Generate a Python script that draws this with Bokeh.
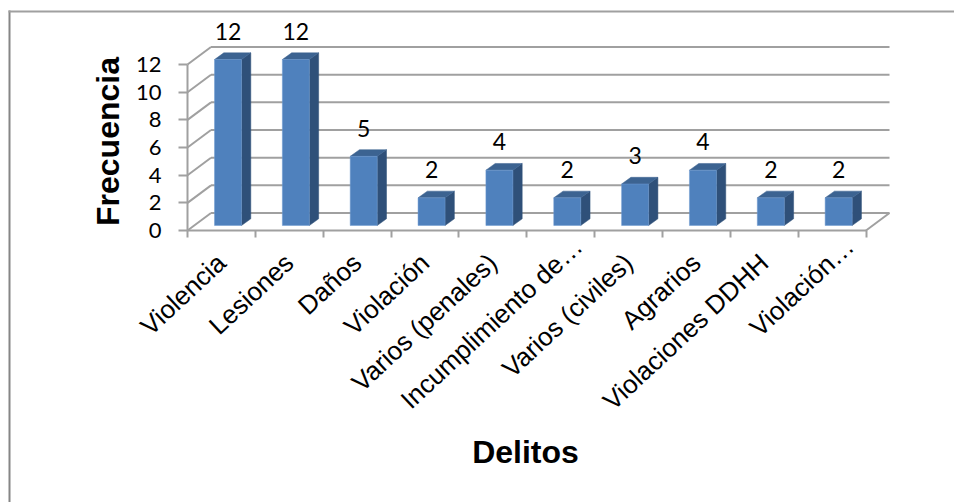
from math import cos, radians, sin

from bokeh.core.properties import value
from bokeh.embed import file_html
from bokeh.models import BoxAnnotation, FixedTicker, Label, LinearAxis, Range1d
from bokeh.plotting import figure
from bokeh.resources import INLINE

categories = ["Violencia", "Lesiones", "Daños", "Violación", "Varios (penales)",
              "Incumplimiento de…", "Varios (civiles)", "Agrarios",
              "Violaciones DDHH", "Violación…"]
frecuencia = [12, 12, 5, 2, 4, 2, 3, 4, 2, 2]
y_ticks = [0, 2, 4, 6, 8, 10, 12]

WIDTH = 954
HEIGHT = 502
ORIGIN_X = 187             # page position of the front corner of the floor
ORIGIN_Y = 230

# Pixels per data unit, and the oblique depth of the box walls
PX_X = 67.85
PX_Y = 13.83
WALL_DX = 23.5 / PX_X
WALL_DY = 17.5 / PX_Y
BAR_W = 27 / PX_X
BAR_DX = 9.3 / PX_X
BAR_DY = 6.7 / PX_Y
BAR_X0 = 27 / PX_X         # gap between category edge and front face of bar
BAR_Y0 = 5.0 / PX_Y        # bar feet sit a little behind the front floor edge

LABEL_ANGLE = radians(43)
LABEL_DROP = 28            # pixels from the floor edge to the end of a category label
LABEL_NUDGE = 0
ELLIPSIS_SHIFT = 24        # truncated labels run further along their slant

GRID = "#a0a0a0"
TEXT = "#000000"
FRONT = "#4f81bd"
SIDE = "#2f5079"
TOP = "#3c6391"

n = len(categories)
# The frame fills the page; the axes are pinned to the floor and the left wall
p = figure(width=WIDTH, height=HEIGHT, output_backend="svg", toolbar_location=None,
           x_range=Range1d(-ORIGIN_X / PX_X, (WIDTH - ORIGIN_X) / PX_X),
           y_range=Range1d((ORIGIN_Y - HEIGHT) / PX_Y, ORIGIN_Y / PX_Y),
           x_axis_type=None, y_axis_type=None, min_border=0)
p.grid.visible = False
p.outline_line_color = None
p.background_fill_color = "white"
p.border_fill_color = "white"

# Back wall and left wall gridlines
for v in range(0, 13, 2):
    p.line([WALL_DX, n + WALL_DX], [v + WALL_DY, v + WALL_DY], line_color=GRID, line_width=2)
    p.line([0, WALL_DX], [v, v + WALL_DY], line_color=GRID, line_width=2)
p.line([n, n + WALL_DX], [0, WALL_DY], line_color=GRID, line_width=2)

# Bars as three faces each, drawn from the frequencies
for i, v in enumerate(frecuencia):
    x0 = i + BAR_X0
    x1 = x0 + BAR_W
    y0 = BAR_Y0
    y1 = v + y0
    p.patch([x1, x1 + BAR_DX, x1 + BAR_DX, x1],
            [y0, y0 + BAR_DY, y1 + BAR_DY, y1], fill_color=SIDE, line_color=SIDE, line_width=0.5)
    p.patch([x0, x1, x1 + BAR_DX, x0 + BAR_DX],
            [y1, y1, y1 + BAR_DY, y1 + BAR_DY], fill_color=TOP, line_color=TOP, line_width=0.5)
    p.patch([x0, x1, x1, x0], [y0, y0, y1, y1], fill_color=FRONT, line_color="#6f9ad0", line_width=0.5)

p.text([i + BAR_X0 + BAR_W / 2 for i in range(n)],
       [v + 2.4 for v in frecuencia],
       text=[str(v) for v in frecuencia], text_align="center", text_baseline="middle",
       text_font=value("Lato"), text_font_size="23px", text_color=TEXT)

edges = list(range(n + 1))
x_axis = LinearAxis(ticker=FixedTicker(ticks=edges), fixed_location=0,
                    major_label_overrides={e: "" for e in edges},
                    major_tick_in=0, major_tick_out=7, major_tick_line_color=GRID,
                    major_tick_line_width=2, axis_line_color=GRID, axis_line_width=2,
                    bounds=(0, n))
p.add_layout(x_axis, "below")

# Slanted category names, ending under the middle of each category
label_x, label_y = [], []
for i, name in enumerate(categories):
    shift = ELLIPSIS_SHIFT if name.endswith("…") else 0
    label_x.append(i + 0.5 + (LABEL_NUDGE + shift * cos(LABEL_ANGLE)) / PX_X)
    label_y.append((-LABEL_DROP + shift * sin(LABEL_ANGLE)) / PX_Y)
p.text(label_x, label_y, text=categories, angle=LABEL_ANGLE, text_align="right",
       text_baseline="middle", text_font=value("Liberation Sans"), text_font_size="26px",
       text_color=TEXT)

y_axis = LinearAxis(ticker=FixedTicker(ticks=y_ticks), fixed_location=0, major_label_standoff=17,
                    major_label_text_font="Lato", major_label_text_font_size="22px",
                    major_label_text_color=TEXT, major_tick_in=0, major_tick_out=9,
                    major_tick_line_color=GRID, major_tick_line_width=2,
                    axis_line_color=GRID, axis_line_width=2, bounds=(0, 12))
p.add_layout(y_axis, "left")

p.add_layout(Label(x=107, y=HEIGHT - 141, x_units="screen", y_units="screen",
                   text="Frecuencia", angle=90, angle_units="deg", text_align="center",
                   text_baseline="middle", text_font="Liberation Sans",
                   text_font_style="bold", text_font_size="32px", text_color=TEXT))
p.add_layout(Label(x=525, y=HEIGHT - 451, x_units="screen", y_units="screen",
                   text="Delitos", text_align="center", text_baseline="middle",
                   text_font="Liberation Sans", text_font_style="bold",
                   text_font_size="32px", text_color=TEXT))

# Chart area border: top and left edges
p.add_layout(BoxAnnotation(left=8, right=10, top=HEIGHT - 10, bottom=0,
                           left_units="screen", right_units="screen", top_units="screen",
                           bottom_units="screen", fill_color="#868686", fill_alpha=1,
                           line_color=None))
p.add_layout(BoxAnnotation(left=8, right=WIDTH, top=HEIGHT - 10, bottom=HEIGHT - 12,
                           left_units="screen", right_units="screen", top_units="screen",
                           bottom_units="screen", fill_color="#a0a0a0", fill_alpha=1,
                           line_color=None))

open("out.html", "w").write(file_html(p, INLINE))
